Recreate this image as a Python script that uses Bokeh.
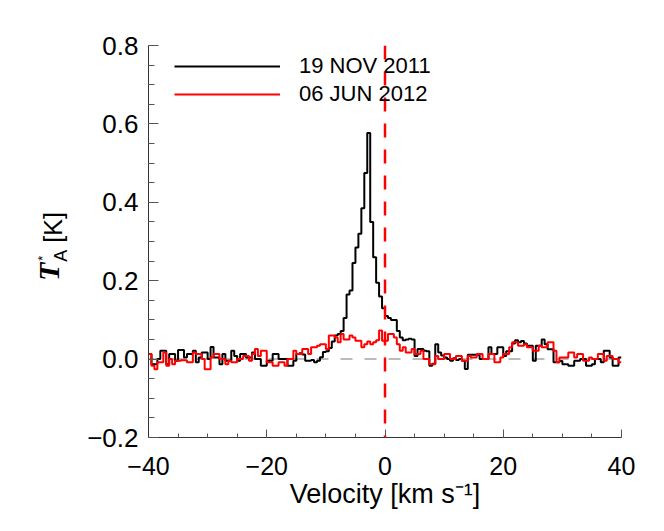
import numpy as np
from bokeh.plotting import figure
from bokeh.models import (FixedTicker, CustomJSTickFormatter, Span,
                          Legend, LegendItem, Div)
from bokeh.layouts import row
from bokeh.embed import file_html
from bokeh.resources import INLINE

# ---- data -------------------------------------------------------------
v_start = -40.0      # lower edge of first channel [km/s]
v_step = 0.5         # channel width [km/s]

labels = ["19 NOV 2011", "06 JUN 2012"]

t_nov2011 = [
    0.013, -0.013, -0.013, 0.0, 0.021, 0.021, -0.013, 0.013, 0.013, -0.004,
    0.023, 0.023, 0.004, 0.013, 0.013, 0.021, -0.008, 0.004, 0.017, 0.017,
    0.0, 0.031, 0.004, 0.004, -0.013, 0.013, -0.004, -0.004, 0.021, 0.008,
    -0.004, 0.013, 0.013, 0.004, 0.004, 0.017, 0.0, 0.0, -0.017, -0.017,
    -0.004, -0.004, 0.013, 0.013, 0.0, 0.0, 0.0, -0.017, -0.017, -0.004,
    0.013, 0.015, 0.012, -0.004, -0.004, -0.002, -0.008, -0.004, 0.005, 0.018,
    0.020, 0.028, 0.045, 0.060, 0.064, 0.072, 0.105, 0.165, 0.175, 0.245,
    0.285, 0.320, 0.385, 0.475, 0.577, 0.350, 0.260, 0.195, 0.160, 0.130,
    0.110, 0.105, 0.100, 0.100, 0.072, 0.055, 0.048, 0.050, 0.052, 0.050,
    0.008, 0.026, 0.026, 0.021, 0.020, -0.017, -0.012, 0.038, 0.017, 0.009,
    0.004, 0.0, -0.004, 0.002, -0.002, 0.0, -0.004, -0.025, 0.011, 0.011,
    0.011, 0.011, 0.0, 0.0, 0.0, 0.030, 0.013, 0.013, 0.030, 0.030,
    0.008, 0.020, 0.020, 0.040, 0.048, 0.043, 0.046, 0.040, 0.034, 0.034,
    -0.004, 0.034, 0.034, 0.050, 0.038, 0.025, 0.025, -0.008, -0.008, -0.005,
    -0.013, -0.013, -0.017, -0.017, -0.004, -0.004, 0.0, 0.0, -0.017, -0.017,
    -0.013, 0.0, 0.0, -0.008, 0.021, 0.021, 0.004, -0.017, -0.017, 0.004,
]

t_jun2012 = [
    0.013, -0.017, -0.026, -0.008, -0.008, 0.017, -0.017, 0.0, -0.013, -0.004,
    -0.004, -0.003, -0.003, -0.008, -0.008, 0.017, 0.013, 0.013, 0.0, -0.026,
    -0.026, 0.004, 0.013, 0.013, 0.0, 0.0, -0.013, -0.004, -0.008, -0.008,
    0.0, 0.0, 0.008, 0.008, -0.004, 0.013, 0.026, 0.008, 0.021, 0.021,
    -0.008, -0.008, -0.017, -0.017, -0.008, -0.008, -0.017, 0.0, 0.0, 0.021,
    0.013, 0.013, 0.026, 0.026, 0.013, 0.030, 0.030, 0.034, 0.038, 0.038,
    0.026, 0.060, 0.060, 0.055, 0.043, 0.064, 0.050, 0.050, 0.060, 0.055,
    0.047, 0.047, 0.030, 0.038, 0.045, 0.038, 0.043, 0.048, 0.073, 0.047,
    0.047, 0.064, 0.064, 0.055, 0.038, 0.021, 0.030, 0.017, 0.017, 0.026,
    0.013, 0.013, 0.021, 0.0, 0.0, -0.013, -0.013, 0.008, 0.0, 0.0,
    0.013, 0.013, 0.0, 0.0, 0.008, 0.008, -0.004, -0.004, 0.008, 0.004,
    0.004, 0.013, 0.013, 0.0, 0.0, 0.013, 0.013, -0.008, -0.008, 0.004,
    0.013, 0.013, 0.030, 0.043, 0.043, 0.034, 0.034, 0.038, 0.030, 0.030,
    0.021, 0.021, 0.034, 0.030, 0.030, 0.043, 0.043, 0.021, -0.008, 0.004,
    0.004, 0.004, 0.017, 0.017, 0.004, 0.013, 0.013, -0.004, -0.004, 0.004,
    0.0, 0.0, 0.013, 0.013, -0.004, 0.008, 0.008, 0.0, 0.0, -0.008,
]

x_major = [-40, -20, 0, 20, 40]
x_minor = list(range(-40, 41, 5))
y_major = [-0.2, 0.0, 0.2, 0.4, 0.6, 0.8]
y_minor = [round(-0.2 + 0.05 * k, 2) for k in range(21)]

# ---- geometry ---------------------------------------------------------
DIV_W = 80
W, H = 560, 515
FL, FT, FW, FH = 148 - DIV_W, 45, 473, 392

p = figure(width=W, height=H, x_range=(-40, 40), y_range=(-0.2, 0.8),
           output_backend="svg", toolbar_location=None,
           min_border_left=FL, min_border_top=FT,
           min_border_right=W - FL - FW, min_border_bottom=H - FT - FH)
p.outline_line_color = None
p.grid.visible = False
p.background_fill_color = "white"
p.border_fill_color = "white"

n = len(t_nov2011)
edges = [v_start + v_step * i for i in range(n + 1)]
y_b = list(t_nov2011) + [t_nov2011[-1]]
y_r = list(t_jun2012) + [t_jun2012[-1]]

zero = Span(location=0, dimension="width", line_color="#bbbbbb",
            line_dash="12 12", line_width=2, level="underlay")
p.add_layout(zero)

r_b = p.step(x=edges, y=y_b, mode="after", line_color="black", line_width=2)
r_r = p.step(x=edges, y=y_r, mode="after", line_color="#ff0000", line_width=2)

vline = Span(location=0, dimension="height", line_color="#ff0000",
             line_dash="14 12", line_width=2.5)
p.add_layout(vline)

FONT = "Liberation Sans"

xa = p.xaxis[0]
xa.ticker = FixedTicker(ticks=x_major, minor_ticks=x_minor)
xa.formatter = CustomJSTickFormatter(
    code="return (tick < -1e-9 ? '\\u2212' : '') + Math.abs(tick).toFixed(0);")
ya = p.yaxis[0]
ya.ticker = FixedTicker(ticks=y_major, minor_ticks=y_minor)
ya.formatter = CustomJSTickFormatter(
    code="return (tick < -1e-9 ? '\\u2212' : '') + Math.abs(tick).toFixed(1);")

for ax in (xa, ya):
    ax.axis_line_color = "#333333"
    ax.axis_line_width = 1
    ax.major_tick_line_color = "#555555"
    ax.minor_tick_line_color = "#555555"
    ax.major_tick_out = 0
    ax.minor_tick_out = 0
    ax.major_label_text_font = FONT
    ax.major_label_text_font_size = "25px"
    ax.major_label_text_color = "black"
ya.major_label_text_font_size = "26px"
xa.major_tick_in = 8
xa.minor_tick_in = 4
ya.major_tick_in = 10
ya.minor_tick_in = 6
xa.major_label_standoff = 19
ya.major_label_standoff = 10

xa.axis_label = "Velocity [km s\u207b\u00b9]"
xa.axis_label_text_font = FONT
xa.axis_label_text_font_size = "27px"
xa.axis_label_text_font_style = "normal"
xa.axis_label_text_color = "black"
xa.axis_label_standoff = 1
ya.axis_label = None

legend = Legend(items=[LegendItem(label=labels[0], renderers=[r_b]),
                       LegendItem(label=labels[1], renderers=[r_r])],
                location=(26, 329))
legend.margin = 0
legend.padding = 0
legend.spacing = 0
legend.glyph_width = 106
legend.glyph_height = 28
legend.label_height = 28
legend.label_standoff = 19
legend.label_text_font = FONT
legend.label_text_font_size = "22px"
legend.label_text_color = "black"
legend.label_text_baseline = "middle"
legend.border_line_color = None
legend.background_fill_alpha = 0
p.add_layout(legend)

# y-axis title: bold-italic T with subscript A and superscript *, then [K]
ylabel_html = (
    '<div style="position:relative;width:%dpx;height:%dpx;">'
    '<div style="position:absolute;left:37px;top:281px;'
    'transform:rotate(-90deg);transform-origin:0 0;white-space:nowrap;'
    "font-family:'Liberation Sans';font-size:25px;line-height:30px;color:#000;\">"
    "<span style=\"font-family:'Liberation Serif';font-weight:bold;"
    'font-style:italic;font-size:30px;position:relative;top:-3px;">T</span>'
    '<span style="position:relative;display:inline-block;width:13px;height:0;">'
    '<span style="position:absolute;left:1px;top:-11px;font-size:18px;'
    'line-height:normal;">A</span>'
    '<span style="position:absolute;left:2px;top:-27px;font-size:13px;'
    'line-height:normal;">*</span></span>'
    '&nbsp;[K]</div></div>'
) % (DIV_W, H)
ydiv = Div(text=ylabel_html, width=DIV_W, height=H, margin=0)

layout = row(ydiv, p, spacing=0)
open("out.html", "w").write(file_html(layout, INLINE))
